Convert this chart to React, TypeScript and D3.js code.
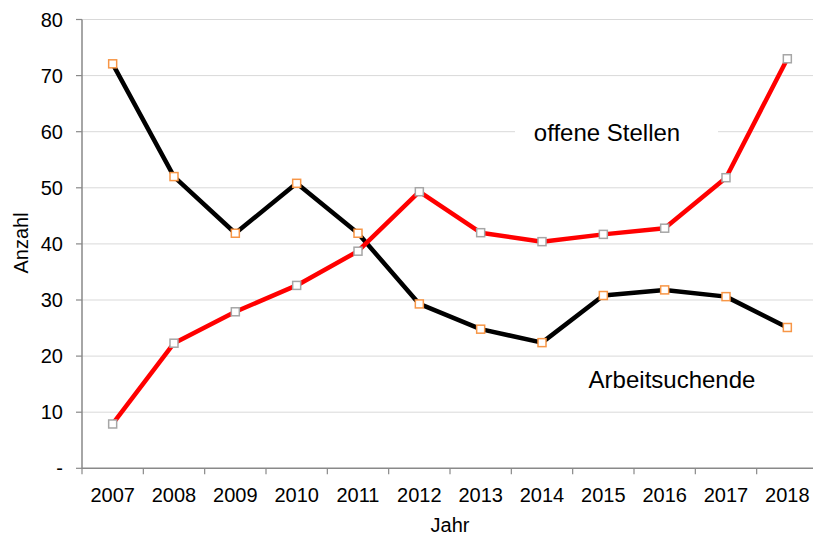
import React from "react";
import * as d3 from "d3";

const years = ["2007","2008","2009","2010","2011","2012","2013","2014","2015","2016","2017","2018"];
const arbeitsuchende = [72.1, 52.0, 41.9, 50.8, 41.9, 29.3, 24.8, 22.4, 30.8, 31.8, 30.6, 25.1];
const offeneStellen = [7.9, 22.3, 27.9, 32.6, 38.7, 49.3, 42.0, 40.4, 41.7, 42.8, 51.8, 73.0];
const yTicks = [0, 10, 20, 30, 40, 50, 60, 70, 80];
const yTickLabels = ["-", "10", "20", "30", "40", "50", "60", "70", "80"];

const W = 813, H = 537;
const left = 82, right = 818, top = 19.5, bottom = 468.3;

export default function App() {
  const x = d3.scaleBand<string>().domain(years).range([left, right]);
  const y = d3.scaleLinear().domain([0, 80]).range([bottom, top]);
  const cx = (d: string) => (x(d) as number) + x.bandwidth() / 2;
  const line = d3.line<number>().x((_, i) => cx(years[i])).y((v) => y(v));
  const font = "'Liberation Sans', Arial, sans-serif";
  const axisColor = "#898989";
  const boundaries = years.map((d) => x(d) as number).concat([right]);
  const m = 8;

  return (
    <svg width={W} height={H} style={{ position: "absolute", left: 0, top: 0, background: "#fff" }} fontFamily={font}>
      {yTicks.filter((t) => t > 0).map((t) => (
        <line key={t} x1={left} x2={right} y1={y(t)} y2={y(t)} stroke="#d9d9d9" strokeWidth={1} />
      ))}
      {/* label boxes */}
      <rect x={515} y={116} width={203} height={38} fill="#fff" />
      <rect x={570} y={359} width={220} height={45} fill="#fff" />
      {/* axes */}
      <line x1={left} x2={left} y1={top} y2={bottom} stroke={axisColor} strokeWidth={1.5} />
      <line x1={left} x2={right} y1={bottom} y2={bottom} stroke={axisColor} strokeWidth={1.5} />
      {yTicks.map((t) => (
        <line key={"yt" + t} x1={left - 6} x2={left} y1={y(t)} y2={y(t)} stroke={axisColor} strokeWidth={1.2} />
      ))}
      {boundaries.map((b, i) => (
        <line key={"xt" + i} x1={b} x2={b} y1={bottom} y2={bottom + 6} stroke={axisColor} strokeWidth={1.2} />
      ))}
      {yTicks.map((t, i) => (
        <text key={"yl" + t} x={63} y={y(t)} dy="0.35em" textAnchor="end" fontSize={20} fill="#000">{yTickLabels[i]}</text>
      ))}
      {years.map((d) => (
        <text key={"xl" + d} x={cx(d)} y={502} textAnchor="middle" fontSize={20} fill="#000">{d}</text>
      ))}
      <text x={450} y={532} textAnchor="middle" fontSize={20} fill="#000">Jahr</text>
      <text transform={`translate(28,243) rotate(-90)`} textAnchor="middle" fontSize={20} fill="#000">Anzahl</text>
      {/* lines */}
      <path d={line(arbeitsuchende) || ""} fill="none" stroke="#000" strokeWidth={4.5} strokeLinejoin="round" />
      <path d={line(offeneStellen) || ""} fill="none" stroke="#ff0000" strokeWidth={4.5} strokeLinejoin="round" />
      {arbeitsuchende.map((v, i) => (
        <rect key={"am" + i} x={cx(years[i]) - m / 2} y={y(v) - m / 2} width={m} height={m} fill="#fff" stroke="#f79646" strokeWidth={1.5} />
      ))}
      {offeneStellen.map((v, i) => (
        <rect key={"om" + i} x={cx(years[i]) - m / 2} y={y(v) - m / 2} width={m} height={m} fill="#fff" stroke="#a6a6a6" strokeWidth={1.5} />
      ))}
      <text x={607} y={141} textAnchor="middle" fontSize={24} fill="#000">offene Stellen</text>
      <text x={672} y={388} textAnchor="middle" fontSize={24} fill="#000">Arbeitsuchende</text>
    </svg>
  );
}
